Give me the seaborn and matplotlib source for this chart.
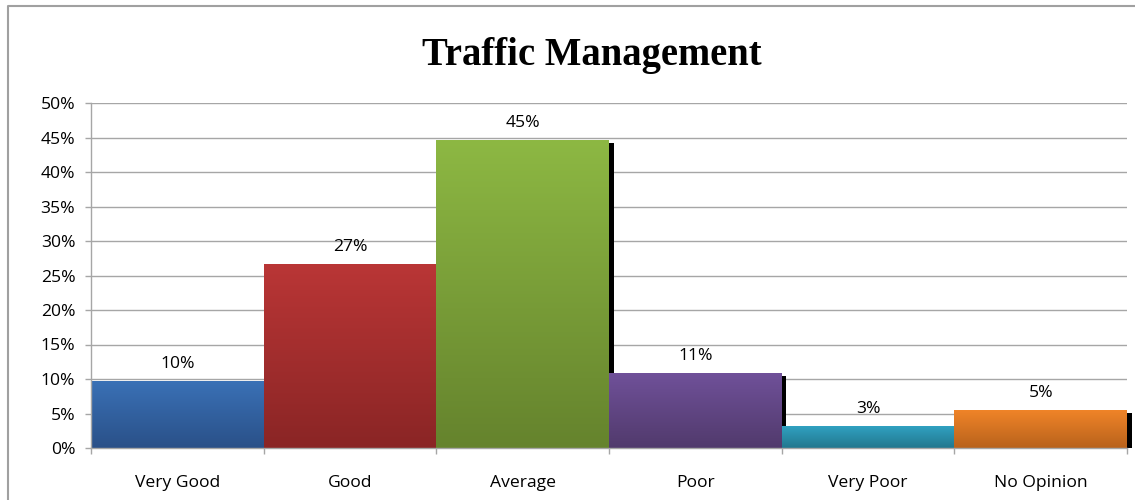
import numpy as np
import pandas as pd
import matplotlib
matplotlib.use("Agg")
import matplotlib.pyplot as plt
import matplotlib.transforms as mtransforms
from matplotlib.patches import Rectangle
from matplotlib.colors import to_rgb
from matplotlib.lines import Line2D
import seaborn as sns

categories = ["Very Good", "Good", "Average", "Poor", "Very Poor", "No Opinion"]
values = [9.7, 26.7, 44.6, 10.9, 3.2, 5.5]
labels = ["10%", "27%", "45%", "11%", "3%", "5%"]
top_colors = ["#3a71b6", "#ba3636", "#8db843", "#70519a", "#31a3c3", "#f08428"]
bottom_colors = ["#2a5088", "#8a2525", "#65832d", "#513a6c", "#22778e", "#b8621c"]
yticks = [0, 5, 10, 15, 20, 25, 30, 35, 40, 45, 50]
title = "Traffic Management"

sns.set_theme(style="white")
plt.rcParams['font.family'] = ['Open Sans', 'DejaVu Sans']

W, H = 1135, 500
fig = plt.figure(figsize=(W / 100, H / 100), dpi=100)
L, R, T, B = 91, 1127, 103, 448
ax = fig.add_axes([L / W, 1 - B / H, (R - L) / W, (B - T) / H])

df = pd.DataFrame({"cat": categories, "val": values})
sns.barplot(data=df, x="cat", y="val", ax=ax, width=1.0, color="white",
            edgecolor="none", linewidth=0, zorder=2)

ax.set_xlim(-0.5, len(categories) - 0.5)
ax.set_ylim(0, 50)
ax.set_yticks(yticks)
ax.set_yticklabels([f"{t}%" for t in yticks])
ax.set_xlabel("")
ax.set_ylabel("")

FS = 12.6
grid_c = "#a6a6a6"
ax.set_axisbelow(True)
ax.yaxis.grid(True, color=grid_c, linewidth=1.0, zorder=0)
ax.xaxis.grid(False)
for s in ["top", "right"]:
    ax.spines[s].set_visible(False)
for s in ["left", "bottom"]:
    ax.spines[s].set_color(grid_c)
    ax.spines[s].set_linewidth(1.0)

ax.tick_params(axis="y", which="major", left=True, length=4.3, width=1.0,
               color=grid_c, pad=7, labelsize=FS, labelcolor="black")
ax.set_xticks(np.arange(len(categories) + 1) - 0.5, minor=True)
ax.tick_params(axis="x", which="minor", bottom=True, length=4.3, width=1.0, color=grid_c)
ax.tick_params(axis="x", which="major", bottom=False, length=0, pad=19.5,
               labelsize=FS, labelcolor="black")

# shadows and gradient fills
shadow_tf = ax.transData + mtransforms.ScaledTranslation(4.5 / 100, 0, fig.dpi_scale_trans)
dy = 50 * 3 / (B - T)
for i, p in enumerate(ax.patches):
    x0, w, h = p.get_x(), p.get_width(), p.get_height()
    sh = Rectangle((x0, 0), w, h - dy, facecolor="black", edgecolor="none",
                   transform=shadow_tf, zorder=1.5, clip_on=False)
    ax.add_patch(sh)
    top = np.array(to_rgb(top_colors[i]))
    bot = np.array(to_rgb(bottom_colors[i]))
    t = np.linspace(0, 1, 256)[:, None]
    grad = (top[None, :] * (1 - t) + bot[None, :] * t)[:, None, :]
    im = ax.imshow(grad, extent=(x0, x0 + w, 0, h), aspect="auto",
                   origin="upper", interpolation="bilinear", zorder=2.5)
    im.set_clip_path(p)
    ax.annotate(labels[i], (x0 + w / 2, h), xytext=(0, 9.4), textcoords="offset points",
                ha="center", va="baseline", fontsize=FS, color="black")

ax.set_xlim(-0.5, len(categories) - 0.5)
ax.set_ylim(0, 50)

fig.text(591.5 / W, 1 - 65 / H, title, ha="center", va="baseline", color="black",
         fontsize=27.8, fontweight="bold", family=["Liberation Serif", "DejaVu Serif"])

border_c = "#a0a0a0"
fig.add_artist(Line2D([8 / W, 8 / W, 1.0], [0.0, 1 - 6 / H, 1 - 6 / H],
                      transform=fig.transFigure, color=border_c, linewidth=1.5))

fig.savefig("out.png", dpi=100)
